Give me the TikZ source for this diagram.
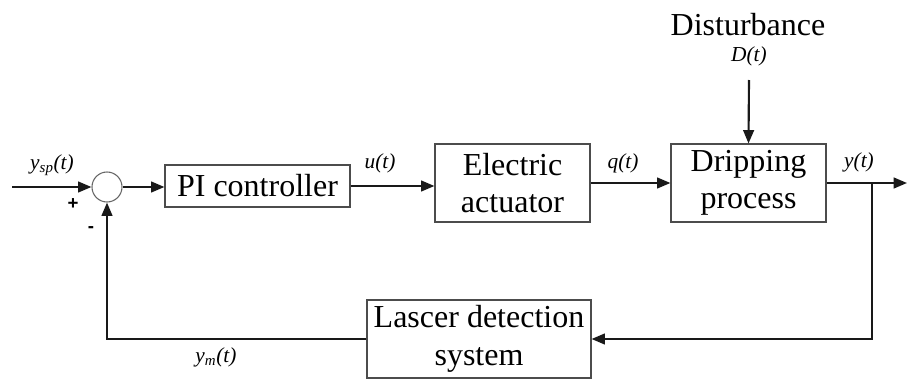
\documentclass[tikz,border=0pt]{standalone}
\usepackage{fontspec}
\setmainfont{Liberation Serif}
\newfontfamily\signfont{Liberation Sans}
\usetikzlibrary{arrows.meta}
\begin{document}
\begin{tikzpicture}[x=0.75pt,y=-0.75pt,
  blk/.style={draw=black!70,line width=0.8pt,rectangle,align=center,inner sep=0pt,
    font=\fontsize{24}{28}\selectfont},
  sig/.style={line width=1.6pt,black!90},
  arr/.style={sig,-{Triangle[length=10pt,width=8pt]}},
  lbl/.style={font=\fontsize{16}{18}\selectfont\itshape,inner sep=0pt},
  sgn/.style={font=\signfont\bfseries\fontsize{14}{16}\selectfont,inner sep=0pt}]
\useasboundingbox (0,0) rectangle (907,379);

% blocks
\node[draw=black!60,line width=0.8pt,circle,minimum size=22.5pt,inner sep=0pt] (sum) at (107,187) {};
\node[blk,minimum width=138.75pt,minimum height=31.5pt] (pi) at (257.5,186) {PI controller};
\node[blk,minimum width=116.25pt,minimum height=58.5pt] (ea) at (512.5,183) {Electric\\actuator};
\node[blk,minimum width=116.25pt,minimum height=58.5pt] (dp) at (748.5,183) {Dripping\\process};
\node[blk,minimum width=168pt,minimum height=58.5pt] (ld) at (479,339) {Lascer detection\\system};

% disturbance
\node[font=\fontsize{24}{28}\selectfont,inner sep=0pt] (dist) at (748,25) {Disturbance};
\node[lbl] (dt) at (749,56) {D(t)};
\coordinate (dtop) at (749,80);
\draw[arr] (dtop) -- (dp.north);

% coordinates
\coordinate (in) at (12,187);
\coordinate (out) at (907,183);
\coordinate (br) at (872,183);
\coordinate (brd) at (872,339);
\coordinate (fbl) at (107,339);

% connectors
\draw[arr] (in) -- (sum.west);
\draw[arr] (sum.east) -- (sum.east -| pi.west);
\draw[arr] (pi.east) -- (pi.east -| ea.west);
\draw[arr] (ea.east) -- (ea.east -| dp.west);
\draw[arr] (dp.east) -- (out);
\draw[arr] (br) -- (brd) -- (ld.east);
\draw[arr] (ld.west) -- (fbl) -- (sum.south);

% labels
\node[lbl] (lysp) at (52,165) {y\textsubscript{sp}(t)};
\node[lbl] (lu) at (380,163) {u(t)};
\node[lbl] (lq) at (623,163) {q(t)};
\node[lbl] (ly) at (859,162) {y(t)};
\node[lbl] (lym) at (216,357) {y\textsubscript{m}(t)};
\node[sgn] (plus) at (73,204) {+};
\node[sgn] (minus) at (91,230) {-};
\end{tikzpicture}
\end{document}
